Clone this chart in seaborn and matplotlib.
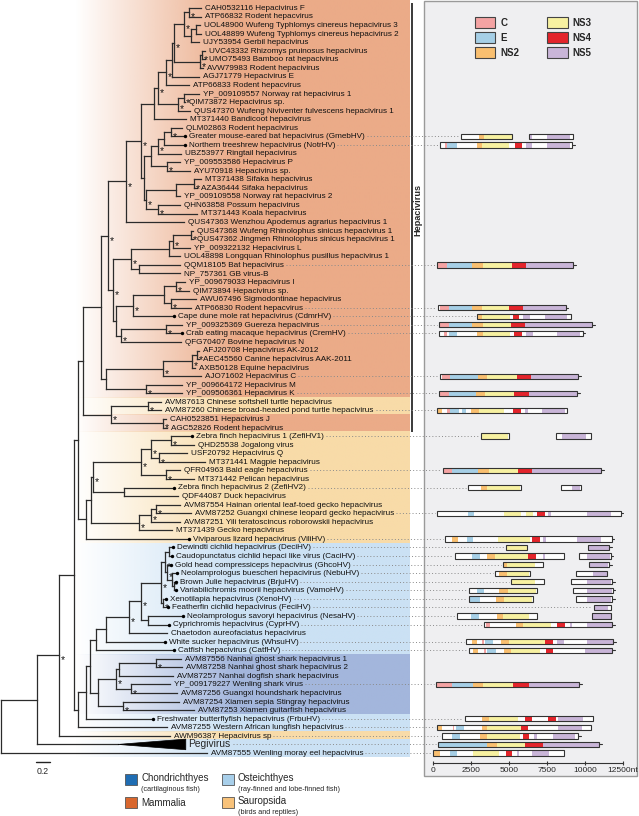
import numpy as np
import pandas as pd
import matplotlib
matplotlib.use('Agg')
import matplotlib.pyplot as plt
import matplotlib.patches as mpatches
from matplotlib.collections import LineCollection
import seaborn as sns

sns.set_theme(style='white')
plt.rcParams['font.family'] = ['Liberation Sans', 'DejaVu Sans']

# ---------------- data ----------------
tip_names = [
    "CAH0532116 Hepacivirus F", "ATP66832 Rodent hepacvirus",
    "UOL48900 Wufeng Typhlomys cinereus hepacivirus 3",
    "UOL48899 Wufeng Typhlomys cinereus hepacivirus 2",
    "UJY53954 Gerbil hepacivirus", "UVC43332 Rhizomys pruinosus hepacivirus",
    "UMO75493 Bamboo rat hepacivirus", "AVW79983 Rodent hepacivirus",
    "AGJ71779 Hepacivirus E", "ATP66833 Rodent hepacvirus",
    "YP_009109557 Norway rat hepacivirus 1", "QIM73872 Hepacivirus sp.",
    "QUS47370 Wufeng Niviventer fulvescens hepacivirus 1",
    "MT371440 Bandicoot hepacivirus", "QLM02863 Rodent hepacivirus",
    "Greater mouse-eared bat hepacivirus (GmebHV)",
    "Northern treeshrew hepacivirus (NotrHV)", "UBZ53977 Ringtail hepacivirus",
    "YP_009553586 Hepacivirus P", "AYU70918 Hepacivirus sp.",
    "MT371438 Sifaka hepacivirus", "AZA36444 Sifaka hepacivirus",
    "YP_009109558 Norway rat hepacivirus 2", "QHN63858 Possum hepacivirus",
    "MT371443 Koala hepacivirus",
    "QUS47363 Wenzhou Apodemus agrarius hepacivirus 1",
    "QUS47368 Wufeng Rhinolophus sinicus hepacivirus 1",
    "QUS47362 Jingmen Rhinolophus sinicus hepacivirus 1",
    "YP_009322132 Hepacivirus L",
    "UOL48898 Longquan Rhinolophus pusillus hepacivirus 1",
    "QQM18105 Bat hepacivirus", "NP_757361 GB virus-B",
    "YP_009679033 Hepacivirus I", "QIM73894 Hepacivirus sp.",
    "AWU67496 Sigmodontinae hepacivirus", "ATP66830 Rodent hepacvirus",
    "Cape dune mole rat hepacivirus (CdmrHV)", "YP_009325369 Guereza hepacivirus",
    "Crab eating macaque hepacivirus (CremHV)", "QFG70407 Bovine hepacivirus N",
    "AFJ20708 Hepacivirus AK-2012", "AEC45560 Canine hepacivirus AAK-2011",
    "AXB50128 Equine hepacivirus", "AJO71602 Hepacivirus C",
    "YP_009664172 Hepacivirus M", "YP_009506361 Hepacivirus K",
    "AVM87613 Chinese softshell turtle hepacivirus",
    "AVM87260 Chinese broad-headed pond turtle hepacivirus",
    "CAH0523851 Hepacivirus J", "AGC52826 Rodent hepacivirus",
    "Zebra finch hepacivirus 1 (ZefiHV1)", "QHD25538 Jogalong virus",
    "USF20792 Hepacivirus Q", "MT371441 Magpie hepacivirus",
    "QFR04963 Bald eagle hepacivirus", "MT371442 Pelican hepacivirus",
    "Zebra finch hepacivirus 2 (ZefiHV2)", "QDF44087 Duck hepacivirus",
    "AVM87554 Hainan oriental leaf-toed gecko hepacivirus",
    "AVM87252 Guangxi chinese leopard gecko hepacivirus",
    "AVM87251 Yili teratoscincus roborowskii hepacivirus",
    "MT371439 Gecko hepacivirus", "Viviparous lizard hepacivirus (ViliHV)",
    "Dewindti cichlid hepacivirus (DeciHV)",
    "Caudopunctatus cichlid hepaci like virus (CaciHV)",
    "Gold head compressiceps hepacivirus (GhcoHV)",
    "Neolamprologus buescheri hepacivirus (NebuHV)",
    "Brown Julie hepacivirus (BrjuHV)",
    "Variabilichromis moorii hepacivirus (VamoHV)",
    "Xenotilapia hepacivirus (XenoHV)", "Featherfin cichlid hepacivirus (FeciHV)",
    "Neolamprologus savoryi hepacivirus (NesaHV)",
    "Cyprichromis hepacivirus (CyprHV)", "Chaetodon aureofaciatus hepacivirus",
    "White sucker hepacivirus (WhsuHV)", "Catfish hepacivirus (CatfHV)",
    "AVM87556 Nanhai ghost shark hepacivirus 1",
    "AVM87258 Nanhai ghost shark hepacivirus 2",
    "AVM87257 Nanhai dogfish shark hepacivirus", "YP_009179227 Wenling shark virus",
    "AVM87256 Guangxi houndshark hepacivirus",
    "AVM87254 Xiamen sepia Stingray hepacivirus",
    "AVM87253 Xiamen guitarfish hepacivirus",
    "Freshwater butterflyfish hepacivirus (FrbuHV)",
    "AVM87255 Western African lungfish hepacivirus", "AWM96387 Hepacivirus sp",
    "Pegivirus", "AVM87555 Wenling moray eel hepacivirus",
]
new_tips = [16, 17, 37, 39, 51, 57, 63, 64, 65, 66, 67, 68, 69, 70, 71, 72, 73,
            75, 76, 84]
collapsed_tip = 87
collapsed_depth = 2.64

# tree pieces: tip id : root-to-node distance (subs/site), '*' = supported node
rodent_a = ("(((((1:2.86,2:2.86)*:2.69,((3:2.84,4:2.86):2.79,5:2.83):2.71)*:2.61,"
            "((6:2.91,7:2.91)*:2.87,8:2.89)*:2.84)*:2.47,9:2.83):2.44,10:2.69)*:2.36")
rodent_b = "((11:2.83,12:2.63)*:2.61,13:2.70)*:2.53"
clade_a = f"(({rodent_a},{rodent_b})*:2.24,14:2.64):2.19"
clade_b = "((((15:2.59,16:2.63)*:2.43,17:2.63):2.33,18:2.57)*:2.24,(19:2.56,20:2.70)*:2.37):2.14"
clade_c = "(((21:2.86,22:2.80)*:2.76,23:2.56):2.50,(24:2.56,25:2.80)*:2.24)*:2.07"
clade_abc = f"(({clade_a},({clade_b},{clade_c}):2.04)*:2.00,26:2.61)*:1.79"
clade_d = "((((27:2.74,28:2.74)*:2.71,29:2.70)*:2.46,30:2.56):2.40,(31:2.56,32:2.56):1.97)*:1.86"
clade_e = ("((((33:2.63,34:2.69)*:2.50,(35:2.79,36:2.71)*:2.43):2.33,37:2.47)*:1.89,"
           "((38:2.59,39:2.59)*:2.36,40:2.57)*:1.71):1.64")
clade_f = "((((41:2.83,42:2.83)*:2.80,43:2.77)*:2.73,44:2.86)*:2.31,(45:2.59,46:2.59)*:2.07):1.50"
clade_g = "((47:2.29,48:2.29)*:2.10,(49:2.36,50:2.37)*:2.31)*:1.57"
mammals = f"((({clade_abc},({clade_d},{clade_e})*:1.60)*:1.53,{clade_f}):1.43,{clade_g}):1.17"
birds = ("((((51:2.73,52:2.76)*:2.43,(53:2.66,54:2.91)*:2.26)*:2.14,(55:2.56,56:2.76)*:2.36)*:2.00,"
         "(57:2.47,58:2.53):1.76)*:1.31")
geckos = "(((59:2.56,60:2.71)*:2.21,61:2.56)*:2.14,62:2.44)*:1.97"
sauropsids = f"(({birds},{geckos}):1.29,63:2.69):1.21"
cichlids = ("((((64:2.46,65:2.44):2.40,(66:2.43,(67:2.51,(68:2.50,69:2.50):2.47)*:2.44)*:2.37)*:2.34,"
            "(70:2.36,71:2.39)*:2.31)*:2.29,(72:2.60,73:2.40):2.10)*:2.00")
bony = f"((({cichlids},74:2.37)*:1.83,75:2.34):1.50,76:2.47):1.36"
sharks = "((((77:2.57,78:2.59)*:2.21,79:2.46):1.69,(80:2.41,81:2.51)*:1.86)*:1.64,(82:2.54,83:2.76)*:1.74):1.39"
fishes = f"((({bony},{sharks}):1.27,84:2.17):1.21,85:2.37):1.10"
tree_newick = f"((((({mammals},{sauropsids}):1.10,{fishes}):1.04,86:2.41)*:0.83,87:1.67):0.51,88:2.94):0"

# host shading: (first tip, last tip, host)
host_bands = [(0, 46, 'Mammalia'), (47, 48, 'Sauropsida'), (49, 50, 'Mammalia'),
              (51, 63, 'Sauropsida'), (64, 76, 'Osteichthyes'),
              (77, 83, 'Chondrichthyes'), (84, 85, 'Osteichthyes'),
              (86, 86, 'Sauropsida'), (87, 88, 'Osteichthyes')]
hepacivirus_span = (0.4, 50.5)

# genomes (nt): pieces sequenced, and coloured protein blocks
genome_pieces = {
    16: [(1840, 5180), (6320, 9190)], 17: [(460, 9170)], 31: [(240, 9240)],
    36: [(350, 8730)], 37: [(2870, 9080)], 38: [(415, 10480)], 39: [(395, 9850)],
    44: [(460, 9565)], 46: [(395, 9500)], 48: [(240, 8800)],
    51: [(3135, 5020), (8095, 10370)], 55: [(680, 11050)],
    57: [(2325, 5770), (8400, 9720)], 60: [(240, 12350)], 63: [(790, 11760)],
    64: [(4805, 6165), (10220, 11600)], 65: [(1450, 8620), (9610, 11690)],
    66: [(4630, 7215), (10285, 11600)], 67: [(4080, 6385), (9390, 11470)],
    68: [(5135, 7325), (9060, 11780)], 69: [(2390, 6825), (9190, 11820)],
    70: [(2390, 6560), (9390, 11800)], 71: [(10590, 11690)],
    72: [(1560, 6870), (10440, 11710)], 73: [(3355, 11800)], 75: [(2170, 11865)],
    76: [(2390, 11800)], 80: [(200, 9610)], 84: [(2105, 10500)],
    85: [(240, 10400)], 86: [(570, 9560)], 87: [(350, 10920)], 88: [(0, 8650)],
}
genome_blocks = {
    16: [('NS2', 3050, 3380), ('NS3', 3380, 5180), ('NS5', 6380, 6530), ('NS5', 7480, 9015)],
    17: [('C', 790, 940), ('E', 940, 1600), ('NS2', 2870, 3250), ('NS3', 3250, 5020),
         ('NS4', 5400, 5840), ('NS5', 6120, 6490), ('NS5', 7480, 9015)],
    31: [('C', 310, 900), ('E', 900, 2545), ('NS2', 2545, 3270), ('NS3', 3270, 5180),
         ('NS4', 5180, 6120), ('NS5', 6120, 9240)],
    36: [('C', 450, 1040), ('E', 1040, 2545), ('NS2', 2545, 3200), ('NS3', 3200, 5025),
         ('NS4', 5025, 5945), ('NS5', 5945, 8730)],
    37: [('NS2', 2870, 3200), ('NS3', 3200, 5070), ('NS4', 5245, 5685),
         ('NS5', 5945, 6385), ('NS5', 7370, 8800)],
    38: [('C', 480, 1040), ('E', 1040, 2545), ('NS2', 2545, 3270), ('NS3', 3270, 5135),
         ('NS4', 5135, 6055), ('NS5', 6055, 10480)],
    39: [('C', 720, 900), ('E', 1060, 1565), ('NS2', 2870, 3270), ('NS3', 3270, 5070),
         ('NS4', 5355, 5835), ('NS5', 6120, 6560), ('NS5', 8140, 9675)],
    44: [('C', 570, 1120), ('E', 1120, 2980), ('NS2', 2980, 3570), ('NS3', 3570, 5500),
         ('NS4', 5500, 6450), ('NS5', 6450, 9565)],
    46: [('C', 460, 1040), ('E', 1040, 2850), ('NS2', 2850, 3440), ('NS3', 3440, 5355),
         ('NS4', 5355, 6295), ('NS5', 6295, 9500)],
    48: [('NS2', 300, 570), ('C', 940, 1120), ('E', 1120, 1730), ('E', 1930, 2150),
         ('NS2', 2480, 3030), ('NS3', 3030, 4670), ('NS4', 5245, 5770),
         ('NS5', 6080, 6230), ('NS5', 7150, 8690)],
    51: [('NS3', 3200, 4960), ('NS5', 8490, 10070)],
    55: [('C', 745, 1270), ('E', 1270, 2940), ('NS2', 2940, 3710), ('NS3', 3710, 5615),
         ('NS4', 5615, 6490), ('NS5', 6490, 11050)],
    57: [('NS2', 3135, 3570), ('NS3', 3570, 5720), ('NS5', 9115, 9660)],
    60: [('E', 2325, 2700), ('NS3', 4670, 5770), ('NS3', 6100, 6580), ('NS4', 6850, 7350),
         ('NS5', 7570, 7790), ('NS5', 10130, 11730)],
    63: [('NS2', 1230, 1670), ('E', 2225, 2615), ('NS3', 4300, 6390), ('NS4', 6490, 7040),
         ('NS5', 7260, 7440), ('NS5', 9455, 11040)],
    64: [('NS3', 4805, 6165), ('NS5', 10220, 11550)],
    65: [('E', 2545, 3090), ('NS2', 3530, 4080), ('NS3', 4080, 6240), ('NS4', 6240, 6760),
         ('NS5', 7220, 7390), ('NS5', 10110, 11650)],
    66: [('NS2', 4630, 4890), ('NS3', 4890, 6715), ('NS5', 10330, 11500)],
    67: [('NS2', 4370, 4890), ('NS3', 4890, 6340), ('NS5', 10550, 11420)],
    68: [('NS3', 5180, 6720), ('NS5', 10110, 11690)],
    69: [('E', 2870, 3350), ('NS2', 4350, 4920), ('NS3', 4920, 6785), ('NS5', 10110, 11760)],
    70: [('E', 2435, 3090), ('NS2', 4130, 4670), ('NS3', 4670, 6515), ('NS5', 10110, 11710)],
    71: [('NS5', 10650, 11540)],
    72: [('E', 2480, 3025), ('NS2', 4190, 4585), ('NS3', 4585, 6340), ('NS5', 10440, 11710)],
    73: [('C', 3465, 3750), ('NS2', 5435, 5945), ('NS3', 5945, 7765), ('NS4', 8140, 8690),
         ('NS5', 9015, 9170), ('NS5', 10110, 11780)],
    75: [('NS2', 2545, 2920), ('C', 3200, 3355), ('E', 3420, 3970), ('NS2', 4500, 4985),
         ('NS3', 4985, 7355), ('NS4', 7355, 7880), ('NS5', 8160, 8640), ('NS5', 10110, 11820)],
    76: [('NS2', 2610, 2980), ('C', 3355, 3490), ('E', 3570, 4130), ('NS2', 4650, 5150),
         ('NS3', 5150, 7060), ('NS4', 7440, 7900), ('NS5', 10000, 11760)],
    80: [('C', 240, 1230), ('E', 1230, 2610), ('NS2', 2610, 3310), ('NS3', 3310, 5290),
         ('NS4', 5290, 6340), ('NS5', 6340, 9610)],
    84: [('NS2', 3200, 3710), ('NS3', 3710, 5615), ('NS4', 6055, 6540), ('NS4', 7570, 8075),
         ('NS5', 8230, 9870)],
    85: [('NS2', 300, 570), ('C', 1290, 1400), ('E', 1490, 2040), ('NS2', 3200, 3570),
         ('NS3', 3570, 5770), ('NS4', 5770, 6270), ('NS5', 8230, 9830)],
    86: [('E', 1230, 1780), ('NS2', 3090, 3570), ('NS3', 3570, 5720), ('NS4', 5900, 6340),
         ('NS5', 6650, 6830), ('NS5', 7920, 9340)],
    87: [('E', 415, 3570), ('NS2', 3570, 4240), ('NS3', 4240, 6055), ('NS4', 6055, 7215),
         ('NS5', 7215, 10920)],
    88: [('NS2', 50, 480), ('E', 1120, 1600), ('NS3', 2610, 4320), ('NS4', 4810, 5200),
         ('NS5', 5500, 5640), ('NS5', 6490, 7610)],
}
utr3_rows = [17, 31, 36, 38, 39, 44, 46, 55, 60, 63, 64, 65, 66, 68, 69, 70, 73, 75,
             76, 80, 86, 87]
genome_ticks = [0, 2500, 5000, 7500, 10000, 12500]

genes = ['C', 'E', 'NS2', 'NS3', 'NS4', 'NS5']
gene_colors = dict(zip(genes, sns.color_palette(
    ['#F4A3A3', '#A6CFE6', '#F9BF70', '#F7F1A1', '#E3242B', '#C9B5D8'])))
band_colors = {'Mammalia': '#EBAB88', 'Sauropsida': '#F8DBA8',
               'Osteichthyes': '#CBE1F4', 'Chondrichthyes': '#A3B6DC'}
host_legend = [('Chondrichthyes', '(cartilaginous fish)', '#1F6DB3'),
               ('Osteichthyes', '(ray-finned and lobe-finned fish)', '#A8CFEA'),
               ('Mammalia', '', '#D9672E'),
               ('Sauropsida', '(birds and reptiles)', '#F8C27A')]


# ---------------- newick parsing ----------------
def parse_newick(s):
    s = s.replace(' ', '')
    pos = 0

    def read():
        nonlocal pos
        kids = []
        if s[pos] == '(':
            pos += 1
            kids.append(read())
            while s[pos] == ',':
                pos += 1
                kids.append(read())
            pos += 1
        start = pos
        while pos < len(s) and s[pos] not in ',()':
            pos += 1
        label, depth = s[start:pos].split(':')
        return {'kids': kids, 'label': label, 'x': float(depth)}
    return read()


def layout(node):
    if not node['kids']:
        node['y'] = float(node['label'])
    else:
        for k in node['kids']:
            layout(k)
        node['y'] = (node['kids'][0]['y'] + node['kids'][-1]['y']) / 2


def walk(node):
    yield node
    for k in node['kids']:
        yield from walk(k)


root = parse_newick(tree_newick)
layout(root)

# ---------------- figure ----------------
W, H = 639, 816
fig = plt.figure(figsize=(W / 100, H / 100), dpi=100)
fig.patch.set_facecolor('white')


def fbox(x0, y0, x1, y1):
    return [x0 / W, 1 - y1 / H, (x1 - x0) / W, (y1 - y0) / H]


y_top, y_bot = 1 - 8 / 8.563, 1 + 755 / 8.563

ax_t = fig.add_axes(fbox(0, 0, 412, 763))
ax_t.set_xlim(-1 / 70, 411 / 70)
ax_t.set_ylim(y_bot, y_top)
ax_t.axis('off')

# host colour bands fading in from the left
xs_px = np.linspace(0, 410, 400)
ramp = np.clip((xs_px - 75) / 160, 0, 1)
for first, last, host in host_bands:
    rgb = matplotlib.colors.to_rgb(band_colors[host])
    img = np.ones((1, len(xs_px), 4))
    img[0, :, :3] = rgb
    img[0, :, 3] = ramp
    y0 = y_top if first == 0 else first - 0.5
    ax_t.imshow(img, extent=(-1 / 70, 409 / 70, last + 0.5, y0), aspect='auto',
                interpolation='bilinear', zorder=0)

# branches
segs = []
stars = []
for nd in walk(root):
    if nd['kids']:
        ys = [k['y'] for k in nd['kids']]
        segs.append([(nd['x'], min(ys)), (nd['x'], max(ys))])
        for k in nd['kids']:
            segs.append([(nd['x'], k['y']), (k['x'], k['y'])])
        if nd['label'] == '*':
            stars.append((nd['x'], nd['y']))
ax_t.add_collection(LineCollection(segs, colors='#2b2b2b', linewidths=0.9,
                                   capstyle='projecting', zorder=2))
for sx, sy in stars:
    ax_t.text(sx + 0.025, sy + 0.95, '*', fontsize=7.5, ha='left', va='baseline',
              color='#111', zorder=3)

# collapsed pegivirus clade
ax_t.add_patch(mpatches.Polygon([(1.67, collapsed_tip), (collapsed_depth, collapsed_tip - 0.62),
                                 (collapsed_depth, collapsed_tip + 0.62)],
                                closed=True, fc='black', ec='black', lw=0.5, zorder=2))

# tip labels
tip_x = {int(nd['label']): nd['x'] for nd in walk(root) if not nd['kids']}
labels = {}
for i, name in enumerate(tip_names, start=1):
    x = tip_x[i]
    if i == collapsed_tip:
        labels[i] = ax_t.text(collapsed_depth + 0.04, i, name, fontsize=7.4,
                              va='center', ha='left', zorder=3)
        continue
    if i in new_tips:
        ax_t.scatter([x], [i], s=6, color='black', zorder=3, linewidths=0)
    labels[i] = ax_t.text(x + 0.055, i + 0.05, name, fontsize=5.9, va='center',
                          ha='left', color='#111', zorder=3, clip_on=False)

# scale bar
ax_t.plot([0.5, 0.7], [89.1, 89.1], color='#222', lw=1.0, clip_on=False)
ax_t.text(0.6, 90.15, '0.2', fontsize=6.3, ha='center', va='center', clip_on=False)

# hepacivirus bracket
ax_t.plot([411 / 70, 411 / 70], list(hepacivirus_span), color='#2b2b2b', lw=1.3,
          clip_on=False, solid_capstyle='butt')
ax_t.text(417 / 70, 24.6, 'Hepacivirus', rotation=90, fontsize=6.6, fontweight='bold',
          ha='center', va='center', clip_on=False)

# genome panel
fig.add_artist(mpatches.Rectangle((424 / W, 1 - 776 / H), 213 / W, 775 / H,
                                  transform=fig.transFigure, fc='#EFEFF1', ec='#9a9a9a',
                                  lw=1.0, zorder=-5))
ax_g = fig.add_axes(fbox(433, 0, 623, 763))
ax_g.set_facecolor('none')
ax_g.set_xlim(0, 12500)
ax_g.set_ylim(y_bot, y_top)
sns.despine(ax=ax_g, left=True, top=True, right=True)
ax_g.spines['bottom'].set_color('#333')
ax_g.spines['bottom'].set_linewidth(0.8)
ax_g.set_yticks([])
ax_g.set_xticks(genome_ticks)
ax_g.set_xticklabels([str(t) for t in genome_ticks[:-1]] + [f'{genome_ticks[-1]}nt'],
                     fontsize=6.0)
ax_g.tick_params(axis='x', direction='inout', length=3, width=0.8, color='#333', pad=1.5,
                 bottom=True)

blocks = pd.DataFrame([(leaf, g, a, b) for leaf, lst in genome_blocks.items()
                       for g, a, b in lst], columns=['leaf', 'gene', 'start', 'end'])
bh = 0.62
for leaf, pieces in genome_pieces.items():
    for a, b in pieces:
        ax_g.add_patch(mpatches.Rectangle((a, leaf - bh / 2), b - a, bh, fc='white',
                                          ec='none', zorder=2, clip_on=False))
        ax_g.add_patch(mpatches.Rectangle((a, leaf - bh / 2), b - a, bh, fc='none',
                                          ec='#333', lw=0.8, zorder=4, clip_on=False))
    if leaf in utr3_rows:
        end = pieces[-1][1]
        ax_g.plot([end, end + 170], [leaf, leaf], color='#333', lw=0.8, zorder=4,
                  clip_on=False)
for r in blocks.itertuples():
    ax_g.add_patch(mpatches.Rectangle((r.start, r.leaf - bh / 2), r.end - r.start, bh,
                                      fc=gene_colors[r.gene], ec='none', zorder=3,
                                      clip_on=False))

# gene legend
handles = [mpatches.Patch(fc=gene_colors[g], ec='#444', lw=0.8, label=g) for g in genes]
fig.legend(handles=handles, ncol=2, loc='upper left', bbox_to_anchor=(475 / W, 1 - 17 / H),
           frameon=False, prop={'weight': 'bold', 'size': 7}, handlelength=2.1,
           handleheight=1.35, labelspacing=0.42, columnspacing=2.9, handletextpad=0.5,
           borderpad=0, borderaxespad=0)

# dotted leaders from labels to genomes
fig.canvas.draw()
rend = fig.canvas.get_renderer()
inv = fig.transFigure.inverted()
for leaf, pieces in genome_pieces.items():
    bb = labels[leaf].get_window_extent(renderer=rend)
    xs_disp, yd = ax_g.transData.transform((pieces[0][0], leaf))
    p0 = inv.transform((bb.x1 + 2, yd))
    p1 = inv.transform((xs_disp - 2, yd))
    if p1[0] > p0[0]:
        fig.add_artist(plt.Line2D([p0[0], p1[0]], [p0[1], p1[1]], transform=fig.transFigure,
                                  color='#8a8a8a', lw=0.7, ls=(0, (1, 2.3)), zorder=1))

# host legend
for k, (name, sub, col) in enumerate(host_legend):
    bx = 125 if k % 2 == 0 else 222
    by = 774 if k < 2 else 797
    fig.add_artist(mpatches.Rectangle((bx / W, 1 - (by + 11) / H), 12 / W, 11 / H,
                                      transform=fig.transFigure, fc=col, ec='#555', lw=0.6))
    ty = by + 4 if sub else by + 5.5
    fig.text((bx + 16) / W, 1 - ty / H, name, fontsize=7, va='center', ha='left')
    if sub:
        fig.text((bx + 16) / W, 1 - (ty + 11.5) / H, sub, fontsize=5.2, va='center', ha='left')

fig.savefig('out.png', dpi=100)
